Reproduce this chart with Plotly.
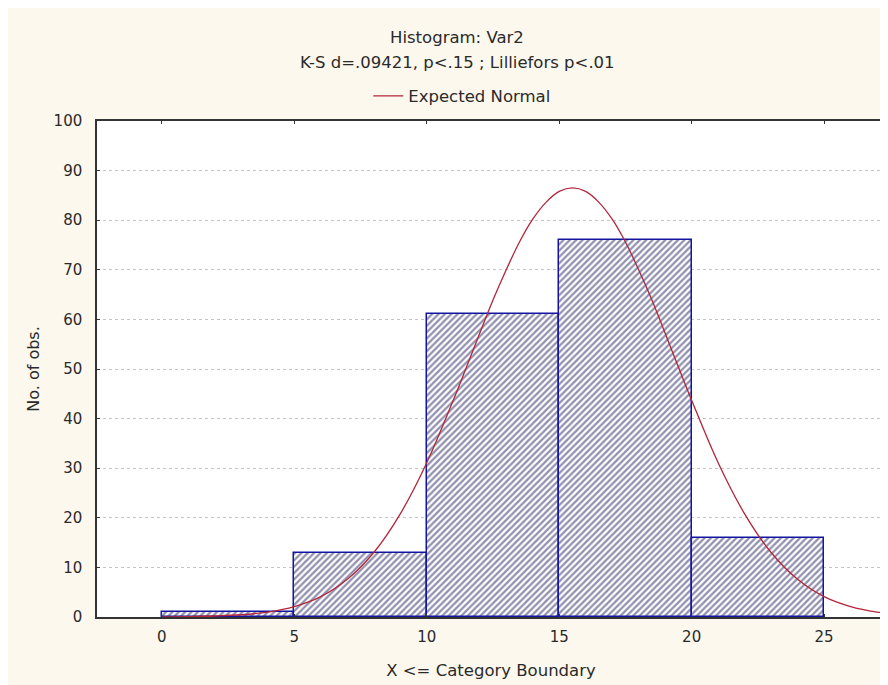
import plotly.graph_objects as go

# Histogram data (bin boundaries and counts)
bin_left = [0, 5, 10, 15, 20]
bin_right = [5, 10, 15, 20, 25]
counts = [1, 13, 61, 76, 16]

# Expected normal curve
curve_x = [0, 1, 2, 3, 4, 5, 6, 7, 8, 9, 10, 11, 11.5, 12, 12.5, 13, 13.5, 14, 14.5, 15,
           15.5, 16, 16.5, 17, 17.5, 18, 18.5, 19, 19.5, 20, 21, 22, 23, 24, 25, 26, 27, 28]
curve_y = [0.03, 0.07, 0.2, 0.45, 1.0, 2.1, 4.1, 7.6, 13.0, 20.8, 31.1, 43.7, 50.4, 57.2,
           63.9, 70.0, 75.6, 80.2, 83.6, 85.8, 86.5, 85.8, 83.6, 80.2, 75.6, 70.0, 63.9,
           57.2, 50.4, 43.7, 31.1, 20.8, 13.0, 7.6, 4.1, 2.1, 1.0, 0.45]

x_ticks = [0, 5, 10, 15, 20, 25]
y_ticks = [0, 10, 20, 30, 40, 50, 60, 70, 80, 90, 100]

FONT = "DejaVu Sans"
TXT = "#2a2a2a"

centers = [(a + b) / 2 for a, b in zip(bin_left, bin_right)]
widths = [b - a for a, b in zip(bin_left, bin_right)]

fig = go.Figure()
fig.add_trace(go.Bar(
    x=centers, y=counts, width=widths, showlegend=False,
    marker=dict(
        color="white",
        line=dict(color="#1414a0", width=1.5),
        pattern=dict(shape="/", fgcolor="#24245c", bgcolor="white", size=4.5, solidity=0.52),
    ),
))
fig.add_trace(go.Scatter(
    x=curve_x, y=curve_y, mode="lines", name="Expected Normal",
    line=dict(color="#b3263a", width=1.3, shape="spline", smoothing=1.0),
))

L, R, T, B = 89, 9, 113, 76
fig.update_layout(
    width=888, height=685,
    margin=dict(l=L, r=R, t=T, b=B),
    paper_bgcolor="#fcf8ee",
    plot_bgcolor="white",
    font=dict(family=FONT, size=15, color=TXT),
    bargap=0,
    showlegend=True,
    legend=dict(
        orientation="h", x=0.3443, xanchor="left", y=1.050, yanchor="middle",
        bgcolor="rgba(0,0,0,0)", font=dict(size=16.5, color=TXT), itemwidth=30,
    ),
    annotations=[
        dict(text="Histogram: Var2", xref="paper", yref="paper", x=0.457, y=1.169,
             xanchor="center", yanchor="middle", showarrow=False, font=dict(size=16.5, color=TXT)),
        dict(text="K-S d=.09421, p<.15 ; Lilliefors p<.01", xref="paper", yref="paper",
             x=0.457, y=1.117, xanchor="center", yanchor="middle", showarrow=False,
             font=dict(size=16.5, color=TXT)),
    ],
)
fig.update_xaxes(
    range=[-2.45, 27.3], tickvals=x_ticks, ticktext=[str(v) for v in x_ticks],
    showgrid=False, zeroline=False,
    showline=True, linecolor="#333", linewidth=1.5, mirror="ticks",
    ticks="inside", ticklen=3, tickcolor="#333", ticklabelstandoff=5,
    tickfont=dict(size=15, color=TXT),
    title=dict(text="X <= Category Boundary", standoff=20, font=dict(size=16.5, color=TXT)),
)
fig.update_yaxes(
    range=[0, 100], tickvals=y_ticks, ticktext=[str(v) for v in y_ticks],
    showgrid=True, gridcolor="#c4c4c4", griddash="dot", gridwidth=1, zeroline=False,
    showline=True, linecolor="#333", linewidth=1.5, mirror="ticks",
    ticks="inside", ticklen=3, tickcolor="#333", ticklabelstandoff=10,
    tickfont=dict(size=15, color=TXT),
    title=dict(text="No. of obs.", standoff=10, font=dict(size=16, color=TXT)),
)

fig.write_html("out.html")
